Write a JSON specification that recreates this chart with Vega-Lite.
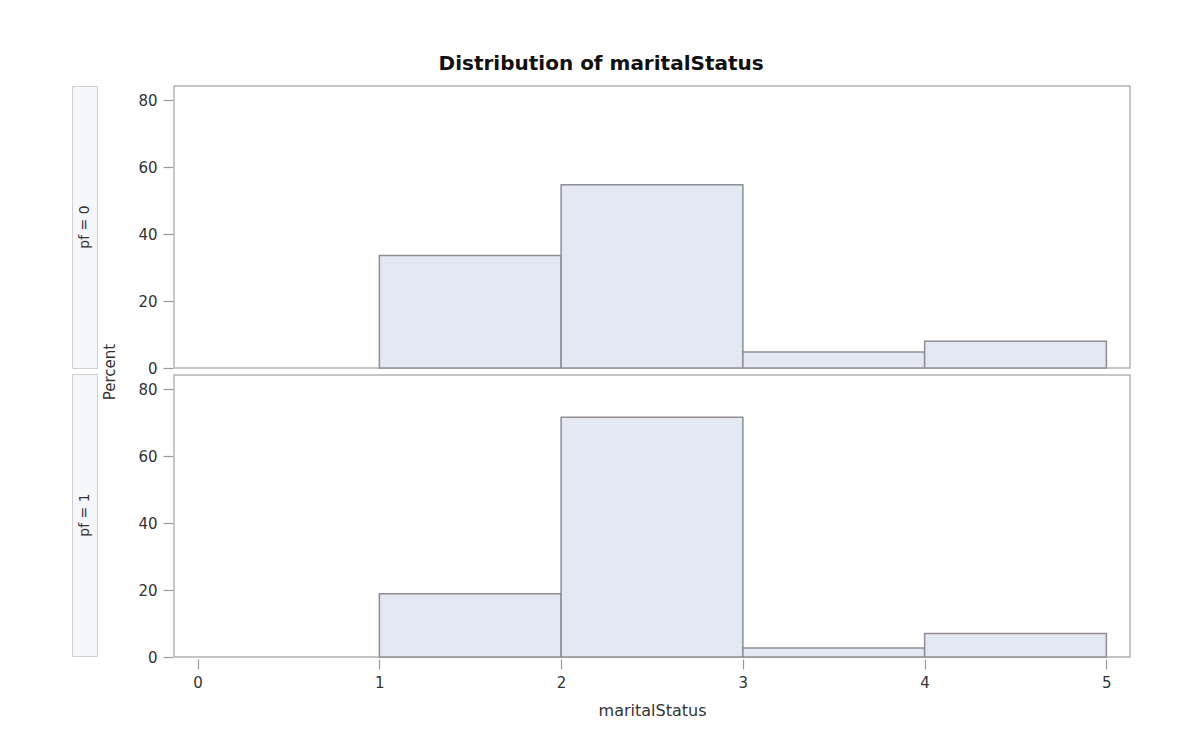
{
  "$schema": "https://vega.github.io/schema/vega-lite/v6.json",
  "background": "white",
  "padding": {"top": 54, "left": 71, "right": 10, "bottom": 10},
  "title": {
    "text": "Distribution of maritalStatus",
    "fontSize": 20,
    "fontWeight": "bold",
    "font": "DejaVu Sans",
    "color": "#111",
    "anchor": "middle",
    "offset": 11
  },
  "datasets": {
    "bins": [
      {"pf": 0, "bin_start": 1, "bin_end": 2, "percent": 33.6},
      {"pf": 0, "bin_start": 2, "bin_end": 3, "percent": 54.7},
      {"pf": 0, "bin_start": 3, "bin_end": 4, "percent": 4.8},
      {"pf": 0, "bin_start": 4, "bin_end": 5, "percent": 8.0},
      {"pf": 1, "bin_start": 1, "bin_end": 2, "percent": 18.9},
      {"pf": 1, "bin_start": 2, "bin_end": 3, "percent": 71.6},
      {"pf": 1, "bin_start": 3, "bin_end": 4, "percent": 2.7},
      {"pf": 1, "bin_start": 4, "bin_end": 5, "percent": 7.0}
    ]
  },
  "spacing": 5,
  "hconcat": [
    {
      "spacing": 4,
      "vconcat": [
        {
          "width": 25,
          "height": 282,
          "data": {"values": [{"label": "pf = 0"}]},
          "view": {"fill": "#f6f7fc", "stroke": "#cfcfd4"},
          "mark": {"type": "text", "angle": 270, "fontSize": 14, "font": "DejaVu Sans", "color": "#333"},
          "encoding": {"text": {"field": "label"}}
        },
        {
          "width": 25,
          "height": 282,
          "data": {"values": [{"label": "pf = 1"}]},
          "view": {"fill": "#f6f7fc", "stroke": "#cfcfd4"},
          "mark": {"type": "text", "angle": 270, "fontSize": 14, "font": "DejaVu Sans", "color": "#333"},
          "encoding": {"text": {"field": "label"}}
        }
      ]
    },
    {
      "data": {"name": "bins"},
      "facet": {
        "row": {
          "field": "pf",
          "type": "ordinal",
          "header": {
            "title": "Percent",
            "labels": false,
            "titleFont": "DejaVu Sans",
            "titleFontSize": 15,
            "titleFontWeight": "normal",
            "titleColor": "#333",
            "titlePadding": 9
          }
        }
      },
      "spacing": {"row": 4},
      "spec": {
        "width": 956,
        "height": 282,
        "view": {"stroke": "#b4b4b8", "strokeWidth": 1.5},
        "mark": {"type": "rect", "fill": "#e4e8f2", "stroke": "#8e8e94", "strokeWidth": 1.5},
        "encoding": {
          "x": {
            "field": "bin_start",
            "type": "quantitative",
            "title": "maritalStatus",
            "scale": {"domain": [-0.13, 5.13], "nice": false, "zero": false},
            "axis": {"values": [0, 1, 2, 3, 4, 5], "format": "d", "labelPadding": 6, "titlePadding": 12}
          },
          "x2": {"field": "bin_end"},
          "y": {
            "field": "percent",
            "type": "quantitative",
            "title": null,
            "scale": {"domain": [0, 84.2], "nice": false},
            "axis": {"values": [0, 20, 40, 60, 80], "labelPadding": 6}
          },
          "y2": {"datum": 0}
        }
      }
    }
  ],
  "config": {
    "axis": {
      "domain": false,
      "grid": false,
      "tickSize": 10,
      "tickColor": "#9a9a9a",
      "tickWidth": 1.2,
      "labelFont": "DejaVu Sans",
      "labelFontSize": 15,
      "labelColor": "#333",
      "titleFont": "DejaVu Sans",
      "titleFontSize": 16,
      "titleFontWeight": "normal",
      "titleColor": "#333"
    }
  }
}
